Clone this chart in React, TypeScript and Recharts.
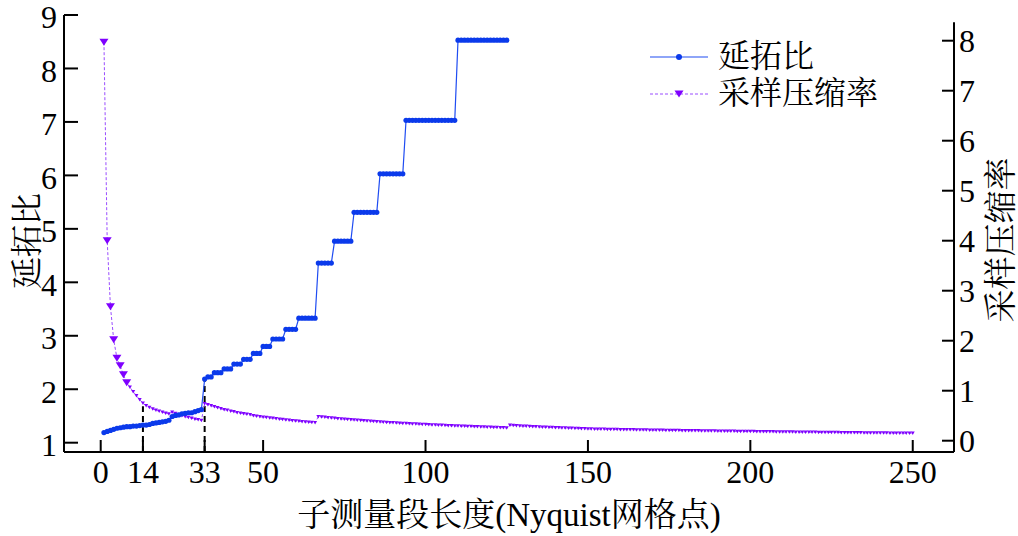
// 延拓比 / 采样压缩率 vs 子测量段长度 - dual axis line chart

import { LineChart, Line, XAxis, YAxis, ReferenceLine } from 'recharts';

// x positions of the grid points
const SEG_LEN = Array.from({ length: 250 }, (_, i) => i + 1);

// 延拓比 (left axis), points 1..125
const EXT_RATIO = [
  1.19, 1.21, 1.23, 1.25, 1.27, 1.28, 1.29, 1.30, 1.30, 1.31,
  1.31, 1.32, 1.33, 1.33, 1.34, 1.36, 1.37, 1.38, 1.39, 1.40,
  1.42, 1.49, 1.51, 1.52, 1.54, 1.55, 1.56, 1.56, 1.58, 1.60,
  1.62, 2.19, 2.23, 2.23, 2.31, 2.31, 2.31, 2.38, 2.38, 2.38,
  2.47, 2.47, 2.47, 2.56, 2.56, 2.56, 2.67, 2.67, 2.67, 2.80,
  2.80, 2.80, 2.94, 2.94, 2.94, 2.94, 3.12, 3.12, 3.12, 3.12,
  3.33, 3.33, 3.33, 3.33, 3.33, 3.33, 4.36, 4.36, 4.36, 4.36,
  4.36, 4.77, 4.77, 4.77, 4.77, 4.77, 4.77, 5.31, 5.31, 5.31,
  5.31, 5.31, 5.31, 5.31, 5.31, 6.03, 6.03, 6.03, 6.03, 6.03,
  6.03, 6.03, 6.03, 7.03, 7.03, 7.03, 7.03, 7.03, 7.03, 7.03,
  7.03, 7.03, 7.03, 7.03, 7.03, 7.03, 7.03, 7.03, 7.03, 8.53,
  8.53, 8.53, 8.53, 8.53, 8.53, 8.53, 8.53, 8.53, 8.53, 8.53,
  8.53, 8.53, 8.53, 8.53, 8.53,
];

// 采样压缩率 (right axis), points 1..250
const COMP_RATE = [
  7.97, 4.00, 2.68, 2.02, 1.65, 1.50, 1.32, 1.16, 1.07, 0.98,
  0.90, 0.82, 0.75, 0.70, 0.665, 0.635, 0.61, 0.59, 0.57, 0.55,
  0.535, 0.57, 0.545, 0.52, 0.50, 0.48, 0.465, 0.45, 0.43, 0.42,
  0.405, 0.74, 0.72, 0.70, 0.68, 0.66, 0.64, 0.62, 0.61, 0.59,
  0.58, 0.56, 0.55, 0.54, 0.53, 0.52, 0.50, 0.49, 0.48, 0.47,
  0.465, 0.455, 0.45, 0.44, 0.43, 0.425, 0.415, 0.41, 0.40, 0.395,
  0.39, 0.38, 0.375, 0.37, 0.365, 0.36, 0.48, 0.475, 0.47, 0.46,
  0.455, 0.45, 0.44, 0.435, 0.43, 0.425, 0.42, 0.415, 0.41, 0.405,
  0.40, 0.395, 0.39, 0.385, 0.38, 0.375, 0.37, 0.365, 0.36, 0.36,
  0.355, 0.35, 0.345, 0.345, 0.34, 0.335, 0.335, 0.33, 0.325, 0.325,
  0.32, 0.315, 0.315, 0.31, 0.31, 0.305, 0.30, 0.30, 0.295, 0.295,
  0.29, 0.29, 0.285, 0.285, 0.28, 0.28, 0.275, 0.275, 0.27, 0.27,
  0.265, 0.265, 0.26, 0.26, 0.255, 0.31, 0.305, 0.30, 0.295, 0.29,
  0.29, 0.285, 0.28, 0.28, 0.275, 0.27, 0.27, 0.265, 0.265, 0.26,
  0.26, 0.255, 0.255, 0.25, 0.25, 0.245, 0.245, 0.24, 0.24, 0.235,
  0.235, 0.23, 0.23, 0.23, 0.23, 0.225, 0.225, 0.225, 0.225, 0.22,
  0.22, 0.22, 0.22, 0.22, 0.215, 0.215, 0.215, 0.215, 0.21, 0.21,
  0.21, 0.21, 0.21, 0.205, 0.205, 0.205, 0.205, 0.205, 0.2, 0.2,
  0.2, 0.2, 0.2, 0.2, 0.195, 0.195, 0.195, 0.195, 0.195, 0.19,
  0.19, 0.19, 0.19, 0.19, 0.19, 0.185, 0.185, 0.185, 0.185, 0.185,
  0.185, 0.18, 0.18, 0.18, 0.18, 0.18, 0.18, 0.175, 0.175, 0.175,
  0.175, 0.175, 0.175, 0.17, 0.17, 0.17, 0.17, 0.17, 0.17, 0.17,
  0.165, 0.165, 0.165, 0.165, 0.165, 0.165, 0.165, 0.16, 0.16, 0.16,
  0.16, 0.16, 0.16, 0.16, 0.155, 0.155, 0.155, 0.155, 0.155, 0.155,
  0.155, 0.155, 0.15, 0.15, 0.15, 0.15, 0.15, 0.15, 0.15, 0.15,
];

const X_TICKS = [0, 13, 32, 50, 100, 150, 200, 250];
const X_TICK_LABELS = ['0', '14', '33', '50', '100', '150', '200', '250'];
const LEFT_TICKS = [1, 2, 3, 4, 5, 6, 7, 8, 9];
const RIGHT_TICKS = [0, 1, 2, 3, 4, 5, 6, 7, 8];

// dashed markers: x position and the height (left axis) they reach
const MARK_X = [13, 32];
const MARK_TOP = [1.68, 2.17];

const X_DOMAIN = [-11.3, 262.7];
const LEFT_DOMAIN = [0.826, 9];
const RIGHT_DOMAIN = [-0.226, 8.514];

const BLUE = '#1f4cf2';
const BLUE_DOT = '#0b3aeb';
const PURPLE = '#9a4dff';
const PURPLE_DOT = '#7f00ff';

const serif = "'Liberation Serif', 'Times New Roman', serif";
const cjk = "'Liberation Serif', 'Noto Serif CJK SC', 'Noto Sans CJK SC', serif";

const rows = SEG_LEN.map((c, i) => ({ c, ext: EXT_RATIO[i], comp: COMP_RATE[i] }));

function CircleDot(props: any) {
  const { cx, cy, index, value } = props;
  if (cx == null || cy == null || value == null) return <g key={`b${index}`} />;
  return <circle key={`b${index}`} cx={cx} cy={cy} r={2.6} fill={BLUE_DOT} />;
}

function TriDot(props: any) {
  const { cx, cy, index, value } = props;
  if (cx == null || cy == null || value == null) return <g key={`p${index}`} />;
  const big = index < 8;
  const w = big ? 4.5 : 2;
  const h = big ? 3.5 : 1.8;
  return (
    <path
      key={`p${index}`}
      d={`M${cx - w},${cy - h}L${cx + w},${cy - h}L${cx},${cy + h}Z`}
      fill={PURPLE_DOT}
    />
  );
}

function LeftTick(props: any) {
  const { x, y, payload } = props;
  return (
    <text x={x} y={y + 2} dy="0.355em" textAnchor="end" fill="#000" fontSize={32} fontFamily={serif}>
      {payload.value}
    </text>
  );
}

const tickStyle = { fill: '#000', fontSize: 32, fontFamily: serif };
const axisStroke = { stroke: '#000', strokeWidth: 2 };

export default function App() {
  return (
    <div style={{ position: 'absolute', left: 0, top: 0, width: 1018, height: 536, background: '#fff' }}>
      <LineChart width={1018} height={536} data={rows} margin={{ top: 15, right: 0, bottom: 0, left: 0 }}>
        <XAxis
          dataKey="c"
          type="number"
          domain={X_DOMAIN}
          allowDataOverflow
          ticks={X_TICKS}
          interval={0}
          tickFormatter={(v: number) => X_TICK_LABELS[X_TICKS.indexOf(v)]}
          height={84}
          tickSize={-12}
          tickMargin={20}
          tick={tickStyle}
          axisLine={axisStroke}
          tickLine={axisStroke}
        />
        <YAxis
          yAxisId="left"
          domain={LEFT_DOMAIN}
          allowDataOverflow
          ticks={LEFT_TICKS}
          interval={0}
          width={64}
          tickSize={-14}
          tickMargin={21}
          tick={<LeftTick />}
          axisLine={axisStroke}
          tickLine={axisStroke}
        />
        <YAxis
          yAxisId="right"
          orientation="right"
          domain={RIGHT_DOMAIN}
          allowDataOverflow
          ticks={RIGHT_TICKS}
          interval={0}
          width={64}
          tickSize={-12}
          tickMargin={17}
          tick={tickStyle}
          axisLine={false}
          tickLine={axisStroke}
        />
        {/* right spine stops a little below the top of the left one */}
        <ReferenceLine
          yAxisId="right"
          segment={[{ x: X_DOMAIN[1], y: RIGHT_DOMAIN[0] }, { x: X_DOMAIN[1], y: 8.37 }]}
          stroke="#000"
          strokeWidth={2}
          ifOverflow="visible"
        />
        {MARK_X.map((x, i) => (
          <ReferenceLine
            key={`m${i}`}
            yAxisId="left"
            segment={[{ x, y: LEFT_DOMAIN[0] }, { x, y: MARK_TOP[i] }]}
            stroke="#000"
            strokeWidth={2}
            strokeDasharray="6 4"
          />
        ))}
        <Line
          yAxisId="right"
          dataKey="comp"
          stroke={PURPLE}
          strokeWidth={1}
          strokeDasharray="3 2"
          dot={TriDot}
          activeDot={false}
          isAnimationActive={false}
        />
        <Line
          yAxisId="left"
          dataKey="ext"
          stroke={BLUE}
          strokeWidth={1.2}
          dot={CircleDot}
          activeDot={false}
          isAnimationActive={false}
        />
      </LineChart>

      {/* legend */}
      <div style={{ position: 'absolute', left: 648, top: 38, fontFamily: cjk, fontSize: 32, color: '#000' }}>
        <div style={{ display: 'flex', alignItems: 'center', height: 37 }}>
          <svg width={62} height={20}>
            <line x1={2} y1={10} x2={60} y2={10} stroke={BLUE} strokeWidth={1.2} />
            <circle cx={31} cy={10} r={3} fill={BLUE_DOT} />
          </svg>
          <span style={{ marginLeft: 8, lineHeight: '37px' }}>延拓比</span>
        </div>
        <div style={{ display: 'flex', alignItems: 'center', height: 37 }}>
          <svg width={62} height={20}>
            <line x1={2} y1={10} x2={60} y2={10} stroke={PURPLE} strokeWidth={1} strokeDasharray="3 2" />
            <path d="M26.5,6.5L35.5,6.5L31,13.5Z" fill={PURPLE_DOT} />
          </svg>
          <span style={{ marginLeft: 8, lineHeight: '37px' }}>采样压缩率</span>
        </div>
      </div>

      {/* axis titles */}
      <div style={{ position: 'absolute', left: 64, width: 890, top: 496, textAlign: 'center', fontFamily: cjk, fontSize: 33, lineHeight: '38px', color: '#000' }}>
        子测量段长度(Nyquist网格点)
      </div>
      <div style={{ position: 'absolute', left: 27, top: 241, transform: 'translate(-50%, -50%) rotate(-90deg)', whiteSpace: 'nowrap', fontFamily: cjk, fontSize: 32, lineHeight: '38px', color: '#000' }}>
        延拓比
      </div>
      <div style={{ position: 'absolute', left: 1001, top: 240, transform: 'translate(-50%, -50%) rotate(-90deg)', whiteSpace: 'nowrap', fontFamily: cjk, fontSize: 33, lineHeight: '38px', color: '#000' }}>
        采样压缩率
      </div>
    </div>
  );
}
